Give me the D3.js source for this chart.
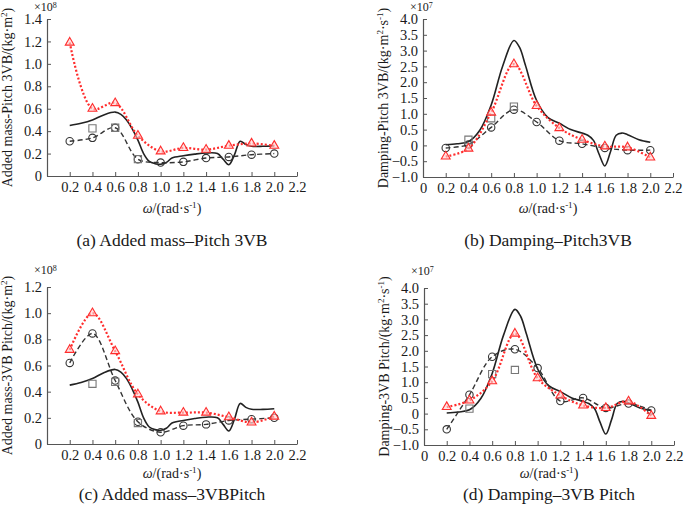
<!DOCTYPE html>
<html>
<head>
<meta charset="utf-8" />
<title>Added mass and damping - Pitch</title>
<script src="https://d3js.org/d3.v7.min.js"></script>
<style>
  body { margin: 0; background: #fff; }
  text { font-family: "Liberation Serif", "Times New Roman", serif; fill: #1a1a1a; }
</style>
</head>
<body>
<svg id="chart" width="685" height="512"></svg>
<script>
// frequencies of the computed points
var omega = [0.2, 0.4, 0.6, 0.8, 1.0, 1.2, 1.4, 1.6, 1.8, 2.0];
var omegaSquare = [0.4, 0.6, 0.8];

// (a) added mass Pitch-3VB, x1e8
var aTriangle = [1.19, 0.60, 0.65, 0.36, 0.22, 0.25, 0.235, 0.27, 0.29, 0.27];
var aCircle   = [0.31, 0.34, 0.43, 0.15, 0.12, 0.126, 0.16, 0.17, 0.19, 0.20];
var aSquare   = [0.425, 0.43, 0.15];

// (b) damping Pitch-3VB, x1e7
var bTriangle = [-0.35, -0.10, 1.04, 2.57, 1.25, 0.55, 0.18, -0.03, -0.06, -0.38];
var bCircle   = [-0.08, 0.03, 0.57, 1.13, 0.74, 0.15, 0.05, -0.08, -0.15, -0.15];
var bSquare   = [0.18, 0.86, 1.23];

// (c) added mass 3VB-Pitch, x1e8
var cTriangle = [0.72, 1.00, 0.71, 0.38, 0.25, 0.24, 0.24, 0.205, 0.165, 0.21];
var cCircle   = [0.62, 0.845, 0.485, 0.17, 0.09, 0.14, 0.15, 0.18, 0.19, 0.20];
var cSquare   = [0.46, 0.475, 0.16];

// (d) damping 3VB-Pitch, x1e7
var dTriangle = [0.21, 0.42, 1.03, 2.55, 1.13, 0.58, 0.26, 0.18, 0.39, -0.07];
var dCircle   = [-0.50, 0.60, 1.81, 2.05, 1.45, 0.40, 0.50, 0.18, 0.32, 0.10];
var dSquare   = [0.16, 1.26, 1.39];

// continuous solid curves (same in both added-mass / both damping panels)
var solidOmega = [0.2, 0.3, 0.4, 0.5, 0.6, 0.65, 0.7, 0.75, 0.8, 0.85, 0.9, 0.95, 1.0, 1.05, 1.1, 1.2, 1.3, 1.4, 1.5, 1.55, 1.6, 1.65, 1.7, 1.75, 1.8, 1.9, 2.0];
var solidMass  = [0.45, 0.47, 0.50, 0.545, 0.57, 0.55, 0.50, 0.42, 0.32, 0.20, 0.13, 0.11, 0.105, 0.12, 0.16, 0.18, 0.195, 0.205, 0.20, 0.15, 0.10, 0.19, 0.31, 0.28, 0.265, 0.265, 0.27];
var solidDampOmega = [0.2, 0.3, 0.4, 0.5, 0.6, 0.7, 0.8, 0.85, 0.9, 1.0, 1.1, 1.2, 1.3, 1.4, 1.45, 1.5, 1.55, 1.6, 1.65, 1.7, 1.75, 1.8, 1.9, 2.0];
var solidDamp  = [0.02, 0.05, 0.12, 0.48, 1.28, 2.5, 3.32, 3.1, 2.55, 1.42, 0.88, 0.70, 0.5, 0.39, 0.32, 0.16, -0.28, -0.65, -0.2, 0.32, 0.39, 0.34, 0.18, 0.10];

var xTicksMass = [0.2, 0.4, 0.6, 0.8, 1.0, 1.2, 1.4, 1.6, 1.8, 2.0, 2.2];
var xTicksDamp = [0, 0.2, 0.4, 0.6, 0.8, 1.0, 1.2, 1.4, 1.6, 1.8, 2.0, 2.2];
var yTicksMassA = [0, 0.2, 0.4, 0.6, 0.8, 1.0, 1.2, 1.4];
var yTicksMassC = [0, 0.2, 0.4, 0.6, 0.8, 1.0, 1.2];
var yTicksDamp = [-1.0, -0.5, 0, 0.5, 1.0, 1.5, 2.0, 2.5, 3.0, 3.5, 4.0];

var svg = d3.select("#chart");
var red = "#ff2d2d";

function fmt(v) { return v === 0 ? "0" : d3.format(".1f")(v); }

// appends text parts, raising the ones flagged as superscript
function addParts(el, parts, lift, supSize) {
  lift = lift || 5;
  supSize = supSize || 9;
  var raised = false;
  parts.forEach(function(part) {
    var t = el.append("tspan").text(part[0]);
    if (part[1]) {
      t.attr("dy", -lift).attr("font-size", supSize);
      raised = true;
    } else if (raised) {
      t.attr("dy", lift);
      raised = false;
    }
    if (part[2]) t.attr("font-style", "italic");
  });
}

function drawPanel(p) {
  var x = d3.scaleLinear().domain([0, 2.2]).range([p.left, p.right]);
  var y = d3.scaleLinear().domain([p.yTicks[0], p.yTicks[p.yTicks.length - 1]]).range([p.bottom, p.top]);
  var g = svg.append("g");

  var xAxis = g.append("g").attr("transform", "translate(0," + p.bottom + ")")
    .call(d3.axisBottom(x).tickValues(p.xTicks).tickFormat(fmt).tickSizeInner(-4).tickSizeOuter(0).tickPadding(6));
  var yAxis = g.append("g").attr("transform", "translate(" + p.left + ",0)")
    .call(d3.axisLeft(y).tickValues(p.yTicks).tickFormat(fmt).tickSizeInner(-4).tickSizeOuter(0).tickPadding(5));
  [xAxis, yAxis].forEach(function(a) {
    a.select(".domain").attr("stroke", "#555").attr("stroke-width", 1.2);
    a.selectAll(".tick line").attr("stroke", "#555");
    a.selectAll(".tick text").attr("font-size", 14.5).attr("fill", "#1a1a1a")
      .style("font-family", '"Liberation Serif", "Times New Roman", serif');
  });

  // exponent label
  var ex = g.append("text").attr("x", p.left - 13).attr("y", p.top - p.expGap + 5).attr("font-size", 12);
  addParts(ex, [["\u00d710"], [p.exp, true]], 3.5, 8);

  // y title
  var cy = (p.top + p.bottom) / 2;
  var yt = g.append("text").attr("transform", "translate(" + (p.left - 35) + "," + cy + ") rotate(-90)")
    .attr("text-anchor", "middle").attr("font-size", 14);
  addParts(yt, p.yTitle);

  // x title
  var cx = (p.left + p.right) / 2;
  var xt = g.append("text").attr("x", cx).attr("y", p.bottom + p.xtGap).attr("text-anchor", "middle").attr("font-size", 14);
  addParts(xt, [["\u03c9", false, true], ["/(rad\u00b7s"], ["-1", true], [")"]]);

  // caption
  g.append("text").attr("x", cx).attr("y", p.bottom + p.capGap).attr("text-anchor", "middle")
    .attr("font-size", 17.5).text(p.caption);

  var smooth = d3.line().curve(d3.curveCatmullRom.alpha(0.5))
    .x(function(d) { return x(d[0]); }).y(function(d) { return y(d[1]); });

  // solid curve
  g.append("path").datum(d3.zip(p.solidX, p.solid))
    .attr("d", smooth).attr("fill", "none").attr("stroke", "#222").attr("stroke-width", 1.6);

  // dashed circles series
  var circ = d3.zip(omega, p.circle);
  g.append("path").datum(circ).attr("d", smooth).attr("fill", "none")
    .attr("stroke", "#333").attr("stroke-width", 1.4).attr("stroke-dasharray", "5,3");
  g.selectAll(null).data(circ).enter().append("circle")
    .attr("cx", function(d) { return x(d[0]); }).attr("cy", function(d) { return y(d[1]); })
    .attr("r", 3.7).attr("fill", "none").attr("stroke", "#333").attr("stroke-width", 1.1);

  // squares
  g.selectAll(null).data(d3.zip(omegaSquare, p.square)).enter().append("path")
    .attr("d", d3.symbol(d3.symbolSquare, 52))
    .attr("transform", function(d) { return "translate(" + x(d[0]) + "," + y(d[1]) + ")"; })
    .attr("fill", "none").attr("stroke", "#777").attr("stroke-width", 1.1);

  // dotted triangles series
  var tri = d3.zip(omega, p.triangle);
  g.append("path").datum(tri).attr("d", smooth).attr("fill", "none")
    .attr("stroke", red).attr("stroke-width", 2.2).attr("stroke-dasharray", "2,2");
  g.selectAll(null).data(tri).enter().append("path")
    .attr("d", d3.symbol(d3.symbolTriangle, 34))
    .attr("transform", function(d) { return "translate(" + x(d[0]) + "," + y(d[1]) + ")"; })
    .attr("fill", "#ffd0d0").attr("fill-opacity", 0.6).attr("stroke", red).attr("stroke-width", 1.1);
}

drawPanel({
  left: 47, right: 297, top: 19, bottom: 176, exp: "8", expGap: 13,
  yTicks: yTicksMassA, xTicks: xTicksMass,
  yTitle: [["Added mass-Pitch 3VB/(kg\u00b7m"], ["2", true], [")"]],
  caption: "(a) Added mass\u2013Pitch 3VB", xtGap: 37, capGap: 70,
  triangle: aTriangle, circle: aCircle, square: aSquare,
  solidX: solidOmega, solid: solidMass
});
drawPanel({
  left: 423, right: 673, top: 19, bottom: 177, exp: "7", expGap: 13,
  yTicks: yTicksDamp, xTicks: xTicksDamp,
  yTitle: [["Damping-Pitch 3VB/(kg\u00b7m"], ["2", true], ["\u00b7s"], ["-1", true], [")"]],
  caption: "(b) Damping\u2013Pitch3VB", xtGap: 36, capGap: 69,
  triangle: bTriangle, circle: bCircle, square: bSquare,
  solidX: solidDampOmega, solid: solidDamp
});
drawPanel({
  left: 47, right: 297, top: 287, bottom: 444, exp: "8", expGap: 18,
  yTicks: yTicksMassC, xTicks: xTicksMass,
  yTitle: [["Added mass-3VB Pitch/(kg\u00b7m"], ["2", true], [")"]],
  caption: "(c) Added mass\u20133VBPitch", xtGap: 34, capGap: 56,
  triangle: cTriangle, circle: cCircle, square: cSquare,
  solidX: solidOmega, solid: solidMass
});
drawPanel({
  left: 424, right: 674, top: 288, bottom: 445, exp: "7", expGap: 18,
  yTicks: yTicksDamp, xTicks: xTicksDamp,
  yTitle: [["Damping-3VB Pitch/(kg\u00b7m"], ["2", true], ["\u00b7s"], ["-1", true], [")"]],
  caption: "(d) Damping\u20133VB Pitch", xtGap: 33, capGap: 55,
  triangle: dTriangle, circle: dCircle, square: dSquare,
  solidX: solidDampOmega, solid: solidDamp
});
</script>
</body>
</html>
